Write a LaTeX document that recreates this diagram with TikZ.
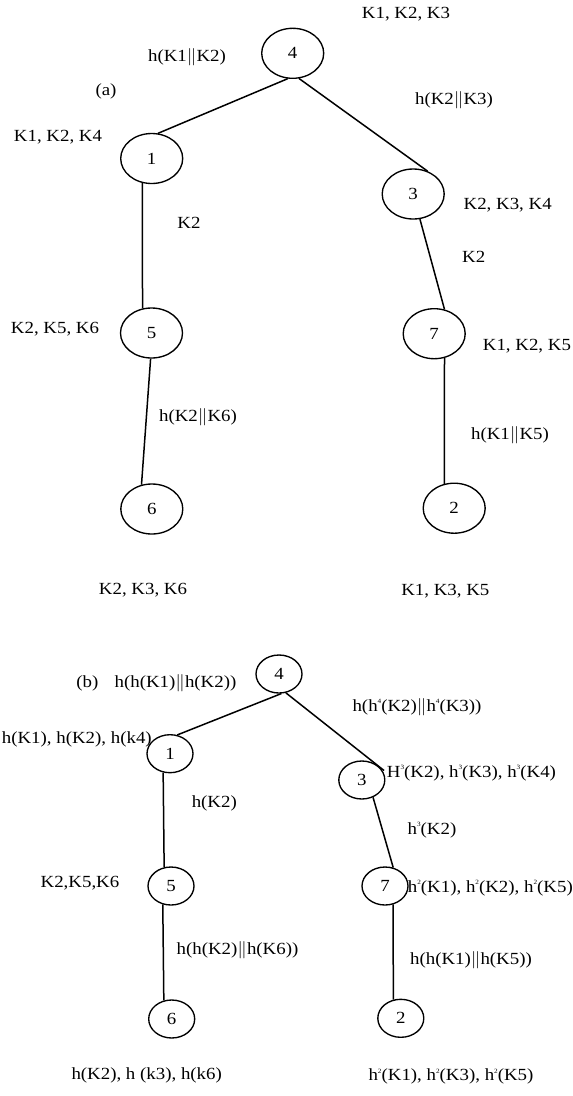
\documentclass[tikz,border=0pt]{standalone}
\usepackage{fontspec}
\setmainfont{Liberation Serif}
\usetikzlibrary{shapes.geometric}
% labels are set slightly wide
\newcommand{\wtext}[1]{\scalebox{1.11}[1]{#1}}
% small raised exponent on h
\newcommand{\pw}[1]{\raisebox{0.45em}{\fontsize{6.5}{6.5}\selectfont #1}}
\newcommand{\cat}{\ensuremath{\|}}
\begin{document}
\begin{tikzpicture}[x=1pt,y=-1pt,
  font=\fontsize{17}{19}\selectfont,
  keynode/.style={draw, ellipse, line width=1.35pt, inner sep=0pt,
                  minimum width=62pt, minimum height=50pt},
  smallkey/.style={draw, ellipse, line width=1.35pt, inner sep=0pt,
                  minimum width=46pt, minimum height=38pt},
  lbl/.style={inner sep=0pt},
  link/.style={line width=1.5pt}]
\useasboundingbox (0,0) rectangle (573,1096);
\clip (0,0) rectangle (573,1096);

% ---------- tree (a) ----------
\node[keynode] (a4) at (292.7,53.3) {\wtext{4}};
\node[keynode] (a1) at (151.7,158.5) {\wtext{1}};
\node[keynode] (a3) at (413.2,194) {\wtext{3}};
\node[keynode] (a5) at (151.5,333) {\wtext{5}};
\node[keynode] (a7) at (434.2,333.7) {\wtext{7}};
\node[keynode] (a6) at (151.8,509) {\wtext{6}};
\node[keynode] (a2) at (454.2,508.2) {\wtext{2}};

\draw[link] (a4.259) -- (a1.76);
\draw[link] (a4.284) -- (a3.58);
\draw[link] (a1.249) -- (a5.110);
\draw[link] (a5.268) -- (a6.113);
\draw[link] (a3.285) -- (a7.67);
\draw[link] (a7.293) -- (a2.112);

\node[lbl] (la4) at (406,14) {\wtext{K1, K2, K3}};
\node[lbl] (le41) at (187,57) {\wtext{h(K1\cat K2)}};
\node[lbl] (tagA) at (106,91) {\wtext{(a)}};
\node[lbl] (le43) at (454,100) {\wtext{h(K2\cat K3)}};
\node[lbl] (la1) at (58,137) {\wtext{K1, K2, K4}};
\node[lbl] (la3) at (507.7,205) {\wtext{K2, K3, K4}};
\node[lbl] (le15) at (189,223) {\wtext{K2}};
\node[lbl] (le37) at (473.7,257) {\wtext{K2}};
\node[lbl] (la5) at (55,329) {\wtext{K2, K5, K6}};
\node[lbl, anchor=west] (la7) at (482.7,345.7) {\wtext{K1, K2, K5}};
\node[lbl] (le56) at (198,417) {\wtext{h(K2\cat K6)}};
\node[lbl] (le72) at (510,434.7) {\wtext{h(K1\cat K5)}};
\node[lbl] (la6) at (143,590) {\wtext{K2, K3, K6}};
\node[lbl] (la2) at (445.3,590.7) {\wtext{K1, K3, K5}};

% ---------- tree (b) ----------
\node[smallkey] (b4) at (279,674) {\wtext{4}};
\node[smallkey] (b1) at (170,753.7) {\wtext{1}};
\node[smallkey] (b3) at (361.8,780) {\wtext{3}};
\node[smallkey] (b5) at (171,886) {\wtext{5}};
\node[smallkey] (b7) at (385,886) {\wtext{7}};
\node[smallkey] (b6) at (171.7,1019) {\wtext{6}};
\node[smallkey] (b2) at (400.8,1018.3) {\wtext{2}};

\draw[link] (b4.277) -- (b1.69);
\draw[link, shorten >=-6pt] (b4.290) -- (b3.37);
\draw[link] (b1.250) -- (b5.110);
\draw[link] (b5.246) -- (b6.113);
\draw[link] (b3.303) -- (b7.66);
\draw[link] (b7.294) -- (b2.112);

\node[lbl] (tagB) at (87.3,683.3) {\wtext{(b)}};
\node[lbl] (le41b) at (175.5,683.3) {\wtext{h(h(K1)\cat h(K2))}};
\node[lbl] (le43b) at (417,706.7) {\wtext{h(h\pw{4}(K2)\cat h\pw{4}(K3))}};
\node[lbl, anchor=west] (lb1) at (1.7,739.3) {\wtext{h(K1), h(K2), h(k4)}};
\node[lbl, anchor=west] (lb3) at (386.7,773.3) {\wtext{H\pw{3}(K2), h\pw{3}(K3), h\pw{3}(K4)}};
\node[lbl] (le15b) at (214.3,803.3) {\wtext{h(K2)}};
\node[lbl] (le37b) at (432,830) {\wtext{h\pw{3}(K2)}};
\node[lbl] (lb5) at (80,882.7) {\wtext{K2,K5,K6}};
\node[lbl, anchor=west] (lb7) at (407.7,888.3) {\wtext{h\pw{2}(K1), h\pw{2}(K2), h\pw{2}(K5)}};
\node[lbl] (le56b) at (237.5,950) {\wtext{h(h(K2)\cat h(K6))}};
\node[lbl] (le72b) at (471,960) {\wtext{h(h(K1)\cat h(K5))}};
\node[lbl] (lb6) at (146.7,1075) {\wtext{h(K2), h (k3), h(k6)}};
\node[lbl] (lb2) at (451,1076.7) {\wtext{h\pw{2}(K1), h\pw{2}(K3), h\pw{2}(K5)}};
\end{tikzpicture}
\end{document}
